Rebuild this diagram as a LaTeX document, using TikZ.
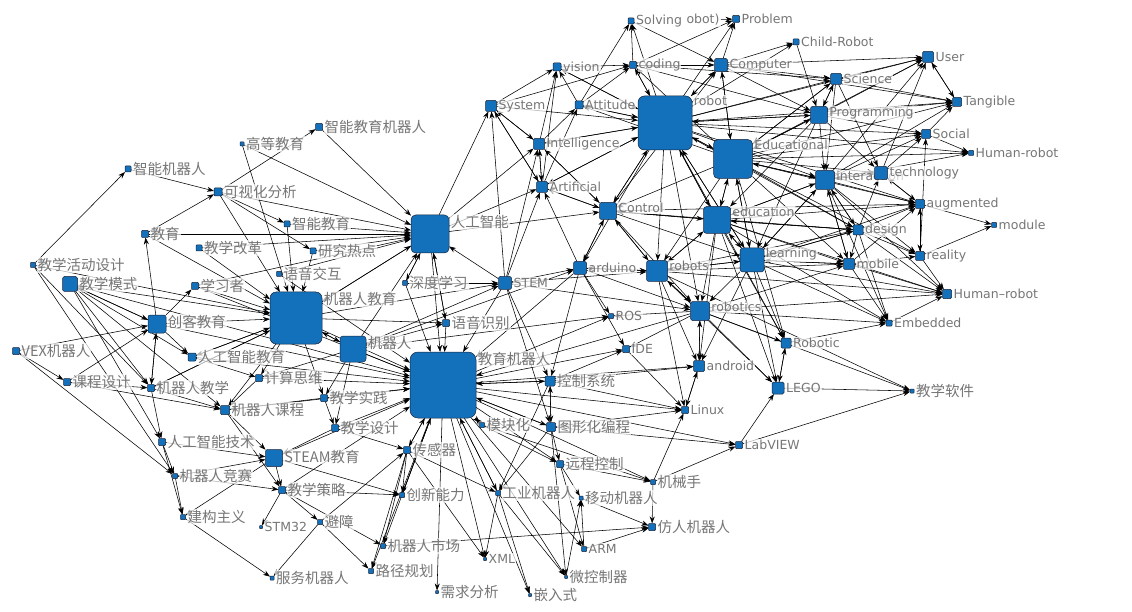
\documentclass[tikz,border=0pt]{standalone}
\usepackage{fontspec}
\setmainfont{DejaVu Sans}
\newfontfamily\cjk{Noto Sans CJK SC}
\usetikzlibrary{arrows.meta}
\pgfdeclarelayer{bg}
\pgfsetlayers{bg,main}
\definecolor{nodeblue}{RGB}{18,113,186}
\definecolor{labgray}{RGB}{118,118,118}
\definecolor{rim}{RGB}{25,35,60}
\tikzset{
  nd/.style={draw=rim, line width=0.5pt, fill=nodeblue, inner sep=0pt, outer sep=0pt},
  lab/.style={text=labgray, font=\fontsize{12.5}{14}\selectfont, inner sep=1pt, fill=white, fill opacity=0.7, text opacity=1},
  clab/.style={lab, font=\cjk\fontsize{14.5}{16}\selectfont},
  edge/.style={line width=0.55pt, -{Stealth[length=7pt,width=5pt]}},
}
\newcommand\ndS[5]{\node[nd,minimum size=#4pt,rounded corners=\fpeval{max(0.6,#4*0.12)}pt,label={[lab]east:#5}] (#1) at (#2,#3) {};}
\newcommand\ndB[5]{\node[nd,minimum size=#4pt,rounded corners=\fpeval{max(0.6,#4*0.12)}pt,label={[lab,anchor=north west]north east:#5}] (#1) at (#2,#3) {};}
\newcommand\ndC[5]{\node[nd,minimum size=#4pt,rounded corners=\fpeval{max(0.6,#4*0.12)}pt,label={[clab]east:#5}] (#1) at (#2,#3) {};}
\newcommand\ndBC[5]{\node[nd,minimum size=#4pt,rounded corners=\fpeval{max(0.6,#4*0.12)}pt,label={[clab,anchor=north west]north east:#5}] (#1) at (#2,#3) {};}
\begin{document}
\begin{tikzpicture}[x=1pt,y=-1pt,label distance=1pt]
\useasboundingbox (0,0) rectangle (1132,612);
% Chinese cluster
\ndC{zjr}{319}{127}{7}{智能教育机器人}
\ndC{gdjy}{242}{144}{4}{高等教育}
\ndC{znjqr}{128}{169}{6}{智能机器人}
\ndC{ksh}{218}{192}{8}{可视化分析}
\ndC{znjy}{287}{224}{6}{智能教育}
\ndC{jy}{145}{234}{7}{教育}
\ndC{jxgg}{199}{248}{6}{教学改革}
\ndC{yjrd}{313}{251}{6}{研究热点}
\ndC{yyjh}{279}{274}{5}{语音交互}
\ndC{jxhd}{33}{265}{5}{教学活动设计}
\ndBC{jxms}{70}{284}{15}{教学模式}
\ndC{xxz}{195}{286}{7}{学习者}
\ndBC{jqrjy}{296}{318}{52}{机器人教育}
\ndBC{ckjy}{157}{324}{18}{创客教育}
\ndBC{rgzn}{430}{234}{38}{人工智能}
\ndC{sdxx}{405}{283}{5}{深度学习}
\ndS{stem}{505}{283}{13}{STEM}
\ndC{yysb}{446}{323}{7}{语音识别}
\ndBC{jqr}{353}{349}{26}{机器人}
\ndBC{jyjqr}{443}{385}{66}{教育机器人}
\ndC{vex}{16}{351}{7}{VEX机器人}
\ndC{rgznjy}{192}{357}{8}{人工智能教育}
\ndC{kcsj}{67}{382}{7}{课程设计}
\ndC{jqrjx}{151}{388}{7}{机器人教学}
\ndC{jssw}{259}{378}{7}{计算思维}
\ndC{jqrkc}{225}{410}{9}{机器人课程}
\ndC{jxsj}{324}{398}{7}{教学实践}
\ndC{jxsjj}{335}{428}{7}{教学设计}
\ndC{rgzjs}{162}{442}{7}{人工智能技术}
\ndBC{steam}{274}{458}{17}{STEAM教育}
\ndC{cgq}{407}{450}{7}{传感器}
\ndC{jqrjs}{175}{476}{5}{机器人竞赛}
\ndC{jxcl}{282}{490}{7}{教学策略}
\ndC{cxnl}{402}{495}{5}{创新能力}
\ndC{gzzy}{183}{517}{5}{建构主义}
\ndS{stm}{261}{527}{3}{STM32}
\ndC{bz}{320}{522}{5}{避障}
\ndC{jqrsc}{383}{546}{5}{机器人市场}
\ndC{fwjqr}{272}{578}{4}{服务机器人}
\ndC{ljgh}{371}{571}{5}{路径规划}
\ndC{xqfx}{437}{592}{3}{需求分析}
\ndS{xml}{485}{559}{3}{XML}
\ndC{qrs}{530}{595}{3}{嵌入式}
\ndC{kzxt}{550}{381}{10}{控制系统}
\ndC{mkh}{482}{425}{5}{模块化}
\ndC{txhbc}{551}{427}{9}{图形化编程}
\ndC{yckz}{560}{464}{7}{远程控制}
\ndC{gyjqr}{498}{493}{5}{工业机器人}
\ndC{ydjqr}{581}{498}{4}{移动机器人}
\ndC{jxs}{653}{482}{5}{机械手}
\ndC{frjqr}{652}{527}{7}{仿人机器人}
\ndS{arm}{584}{549}{5}{ARM}
\ndC{wkzq}{566}{577}{3}{微控制器}
% English cluster
\ndS{ros}{611}{316}{5}{ROS}
\ndS{ide}{626}{349}{7}{IDE}
\ndS{linux}{685}{410}{7}{Linux}
\ndS{labview}{739}{445}{7}{LabVIEW}
\ndS{android}{699}{366}{11}{android}
\ndB{robotics}{700}{311}{19}{robotics}
\ndS{lego}{778}{388}{12}{LEGO}
\ndS{robotic}{786}{343}{10}{Robotic}
\ndC{jxrj}{912}{391}{4}{教学软件}
\ndS{embedded}{889}{323}{6}{Embedded}
\ndS{hrb}{947}{294}{9}{Human--robot}
\ndS{reality}{920}{256}{9}{reality}
\ndS{mobile}{849}{264}{11}{mobile}
\ndS{design}{858}{230}{10}{design}
\ndS{augmented}{920}{204}{9}{augmented}
\ndS{module}{994}{225}{5}{module}
\ndB{learning}{752}{260}{24}{learning}
\ndB{education}{717}{220}{27}{education}
\ndB{robots}{657}{271}{21}{robots}
\ndS{arduino}{580}{268}{13}{arduino}
\ndB{control}{608}{211}{17}{Control}
\ndS{artificial}{542}{187}{11}{Artificial}
\ndS{intelligence}{539}{144}{11}{Intelligence}
\ndS{system}{491}{106}{11}{System}
\ndS{attitude}{579}{105}{8}{Attitude}
\ndS{vision}{557}{67}{8}{vision}
\ndS{coding}{633}{65}{7}{coding}
\node[lab] (obot) at (703,20) {obot)};
\ndS{solving}{631}{21}{6}{Solving}
\ndS{problem}{736}{19}{7}{Problem}
\ndS{computer}{721}{65}{13}{Computer}
\ndS{childrobot}{796}{42}{6}{Child-Robot}
\ndB{robot}{665}{123}{54}{robot}
\ndB{educational}{733}{159}{39}{Educational}
\ndS{science}{836}{79}{11}{Science}
\ndS{user}{928}{57}{11}{User}
\ndS{tangible}{957}{102}{9}{Tangible}
\ndB{programming}{819}{115}{17}{Programming}
\ndS{social}{926}{134}{9}{Social}
\ndS{hra}{971}{153}{5}{Human-robot}
\ndB{interaction}{825}{180}{19}{interaction}
\ndS{technology}{881}{173}{13}{technology}
\begin{pgfonlayer}{bg}
\fill[white] (0,0) rectangle (1132,612);
\foreach \a/\b in {
ksh/zjr, jy/ksh, ksh/znjy, ksh/yjrd, ksh/jqrjy, ksh/rgzn, gdjy/rgzn, gdjy/jqrjy, zjr/rgzn, znjqr/ksh, jxhd/znjqr, jy/rgzn, jy/jqrjy, ckjy/jy, jxgg/jqrjy, jxgg/rgzn, znjy/rgzn, yjrd/rgzn, yyjh/rgzn, yyjh/jyjqr, xxz/jqrjy, ckjy/xxz, jxms/ckjy, ckjy/jxms, jxms/jqrjy, jxhd/jqrjx, jxhd/jqrjy, jxhd/jqrjs, ckjy/jqrjy, vex/kcsj, vex/jqrjs, vex/ckjy, kcsj/jqrkc, kcsj/ckjy, jqrjx/ckjy, ckjy/jqrjx, jqrjx/rgzjs, jqrjx/jqrkc, rgznjy/jssw, rgznjy/jqrjy, ckjy/rgznjy, jxms/rgznjy, jxms/jqrjx, jxms/jqrkc, rgzjs/jqrjs, jxms/rgzjs, jqrkc/steam, jxsj/jqrkc, jssw/jqrkc, steam/jxcl, jqrkc/jxcl, jxcl/stm, jqrjs/gzzy, steam/gzzy, rgzjs/gzzy, gzzy/fwjqr, bz/fwjqr, jxcl/bz, bz/ljgh, jxcl/jqrsc, cgq/jqrsc, cgq/ljgh, jxcl/cxnl, steam/cxnl,
jqrjx/jqrjy, rgzjs/steam, jqrjs/steam, kcsj/jqrjx, jqrjs/jxcl, jxsjj/steam, jxsj/jxsjj, jqr/jxsj, jqr/jssw, jqr/jxsjj, cgq/cxnl, jxsjj/cgq, bz/cgq, jqrjy/jxsj, jqrjy/jssw, jqrjy/jqrkc, jqrjy/jqrjx, jqrjy/rgznjy, jqrjy/jqr, jqr/jqrjy, jqrjy/rgzn, rgzn/jqrjy, sdxx/rgzn, rgzn/sdxx, yysb/rgzn, rgzn/yysb, stem/rgzn, jqr/rgzn, jqrjy/stem, jqr/stem, sdxx/stem, jqrjy/yysb, jqr/yysb, yjrd/jqrjy, znjy/jqrjy, xxz/rgzn,
jyjqr/xqfx, jyjqr/xml, jyjqr/qrs, jyjqr/wkzq, jyjqr/arm, jyjqr/gyjqr, jyjqr/yckz, jyjqr/txhbc, jyjqr/kzxt, jyjqr/cgq, jyjqr/cxnl, jyjqr/linux, jyjqr/ros, jyjqr/ide, jyjqr/android, jyjqr/labview, jyjqr/jxs, jyjqr/mkh, jyjqr/jqrsc, jyjqr/ljgh,
jqr/jyjqr, jqrjy/jyjqr, steam/jyjqr, jxsj/jyjqr, jxsjj/jyjqr, jssw/jyjqr, jqrkc/jyjqr, rgznjy/jyjqr, rgzn/jyjqr, stem/jyjqr, sdxx/jyjqr, yysb/jyjqr, cgq/jyjqr, mkh/jyjqr, jxcl/jyjqr, xxz/jyjqr, ckjy/jyjqr, jxms/jyjqr, kzxt/jyjqr, arduino/jyjqr, robotics/jyjqr, txhbc/jyjqr, cxnl/jyjqr, gyjqr/jyjqr,
kzxt/txhbc, txhbc/kzxt, mkh/yckz, txhbc/yckz, txhbc/labview, txhbc/linux, kzxt/linux, kzxt/ide, kzxt/android, ide/linux, linux/android, android/linux, android/robotics, robotics/android, labview/lego, lego/jxrj, labview/jxrj, jxs/labview, jxs/linux, yckz/jxs, ydjqr/frjqr, jxs/frjqr, jqrsc/frjqr, arm/frjqr, gyjqr/wkzq, gyjqr/xml, txhbc/gyjqr, kzxt/gyjqr, arm/ydjqr, wkzq/ydjqr, yckz/arm, txhbc/wkzq, cgq/gyjqr, yckz/ydjqr, mkh/jxs, gyjqr/qrs, cgq/xml,
stem/kzxt, stem/txhbc, arduino/kzxt,
robotics/ros, arduino/ros, jqr/ros, robotics/ide, arduino/ide, robots/android, learning/android, education/android, robots/linux,
robotics/lego, learning/lego, robots/lego, robotic/lego, lego/robotic, education/lego,
learning/robotic, education/robotic, robotics/robotic, robot/robotic, educational/robotic,
robots/jxrj, robotics/jxrj,
learning/embedded, robotics/embedded, mobile/embedded, design/embedded, interaction/embedded, robotic/embedded, education/embedded,
reality/hrb, mobile/hrb, design/hrb, embedded/hrb, robots/hrb, learning/hrb, interaction/hrb, education/hrb, robotics/hrb,
augmented/reality, reality/augmented, design/reality, mobile/reality, interaction/reality, educational/reality,
learning/mobile, education/mobile, interaction/mobile, robots/mobile, educational/mobile, design/mobile, robotics/mobile,
interaction/design, education/design, educational/design, learning/design, robot/design, robots/design, control/design,
interaction/augmented, educational/augmented, education/augmented, robot/augmented, design/augmented, mobile/augmented, technology/augmented, learning/augmented, control/augmented,
augmented/module, reality/module,
programming/technology, educational/technology, interaction/technology, science/technology, design/technology, augmented/technology,
educational/social, interaction/social, programming/social, technology/social, robot/social, reality/social,
educational/hra, robot/hra, interaction/hra, social/hra,
user/tangible, tangible/user, programming/tangible, science/tangible, computer/tangible, educational/tangible, social/tangible, interaction/tangible, robot/tangible,
computer/user, science/user, programming/user, robot/user, interaction/user, educational/user, technology/user,
computer/science, robot/science, programming/science, educational/science, coding/science, science/programming,
computer/programming, robot/programming, educational/programming, childrobot/programming, coding/programming,
computer/childrobot, robot/childrobot,
obot/problem, coding/problem, robot/problem, computer/problem,
coding/computer, robot/computer, educational/computer, control/computer, solving/computer,
coding/solving, attitude/solving, robot/solving,
vision/coding, robot/coding, attitude/coding, educational/coding, system/coding,
system/vision, intelligence/vision, artificial/vision, robot/vision, attitude/vision,
intelligence/attitude, robot/attitude, educational/attitude, artificial/attitude,
intelligence/system, artificial/system, rgzn/system, stem/system,
artificial/intelligence, intelligence/artificial, system/intelligence, robot/intelligence, control/intelligence, stem/intelligence, rgzn/intelligence,
stem/artificial, arduino/artificial, control/artificial, robot/artificial, system/artificial, rgzn/artificial,
robot/control, educational/control, artificial/control, arduino/control, robots/control, education/control, rgzn/control, intelligence/control,
stem/arduino, control/arduino, robots/arduino, robot/arduino, jqr/arduino,
control/robots, robot/robots, education/robots, arduino/robots, learning/robots, robotics/robots, educational/robots, stem/robots,
robots/robotics, control/robotics, arduino/robotics, education/robotics, learning/robotics, robot/robotics, stem/robotics,
robot/education, educational/education, learning/education, control/education, interaction/education, programming/education, robots/education, design/education,
education/learning, robot/learning, educational/learning, robots/learning, mobile/learning, interaction/learning, design/learning, control/learning, programming/learning,
robot/educational, computer/educational, programming/educational, science/educational, interaction/educational, education/educational, learning/educational,
educational/robot, education/robot, control/robot, learning/robot, programming/robot, computer/robot, intelligence/robot, artificial/robot, system/robot, attitude/robot, coding/robot, vision/robot,
educational/interaction, robot/interaction, programming/interaction, education/interaction, learning/interaction, science/interaction, design/interaction, technology/interaction, mobile/interaction}
  \draw[edge] (\a) -- (\b);
\end{pgfonlayer}
\end{tikzpicture}
\end{document}
